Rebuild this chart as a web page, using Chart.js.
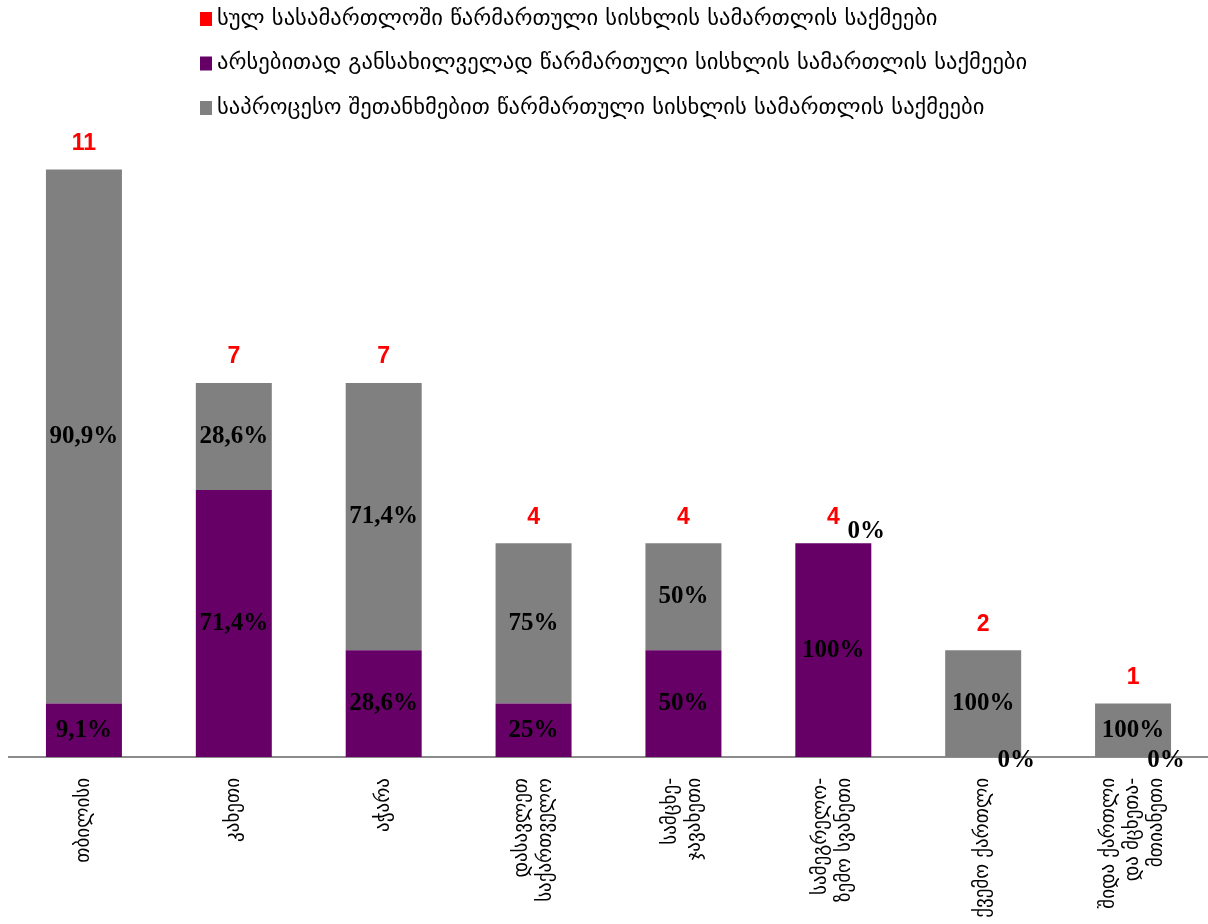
<!DOCTYPE html>
<html>
<head>
<meta charset="utf-8">
<script src="https://cdn.jsdelivr.net/npm/chart.js@4"></script>
<style>
  body { margin: 0; background: #fff; }
</style>
</head>
<body>
<canvas id="myChart" width="1208" height="924"></canvas>
<script>
// regions (one entry per line of the axis label)
const regions = [
  ['თბილისი'],
  ['კახეთი'],
  ['აჭარა'],
  ['დასავლეთ', 'საქართველო'],
  ['სამცხე-', 'ჯავახეთი'],
  ['სამეგრელო-', 'ზემო სვანეთი'],
  ['ქვემო ქართლი'],
  ['შიდა ქართლი', 'და მცხეთა-', 'მთიანეთი']
]
// cases sent to trial on the merits
const meritCases = [1, 5, 2, 1, 2, 4, 0, 0]
// cases closed with plea agreement
const pleaCases = [10, 2, 5, 3, 2, 0, 2, 1]

const legendNames = [
  'სულ სასამართლოში წარმართული სისხლის სამართლის საქმეები',
  'არსებითად განსახილველად წარმართული სისხლის სამართლის საქმეები',
  'საპროცესო შეთანხმებით წარმართული სისხლის სამართლის საქმეები'
]
const legendColors = ['#FF0000', '#660066', '#808080']

const totals = meritCases.map((v, i) => v + pleaCases[i])

function pct(v, total) {
  let p = (v / total * 100).toFixed(1)
  if (p.endsWith('.0')) p = p.slice(0, -2)
  return p.replace('.', ',') + '%'
}

// percentages inside the bars, totals on top, legend and category labels
const extras = {
  id: 'extras',
  afterDraw(chart) {
    const ctx = chart.ctx
    const xs = chart.scales.x
    const ys = chart.scales.y
    ctx.save()

    // percent labels
    ctx.textAlign = 'center'
    ctx.textBaseline = 'middle'
    ctx.font = 'bold 25px "Liberation Serif"'
    ctx.fillStyle = '#000'
    chart.data.datasets.forEach((ds, i) => {
      chart.getDatasetMeta(i).data.forEach((bar, j) => {
        let x = bar.x
        let y = (bar.y + bar.base) / 2
        if (ds.data[j] == 0) {
          x += 33
          y = bar.y + (i == 0 ? 4 : -12)
        }
        ctx.fillText(pct(ds.data[j], totals[j]), x, y)
      })
    })

    // totals
    ctx.font = 'bold 23px "Liberation Sans"'
    ctx.fillStyle = '#FF0000'
    totals.forEach((t, j) => {
      ctx.fillText(t, xs.getPixelForValue(j), ys.getPixelForValue(t) - 26)
    })

    // legend
    ctx.textAlign = 'left'
    ctx.font = '22.6px "DejaVu Sans"'
    legendNames.forEach((name, k) => {
      const y = 19 + k * 44.5
      ctx.fillStyle = legendColors[k]
      ctx.fillRect(200, y - 7, 12, 14)
      ctx.fillStyle = '#000'
      ctx.fillText(name, 217, y)
    })

    // category labels, rotated
    ctx.font = '19px "DejaVu Sans"'
    ctx.textAlign = 'right'
    regions.forEach((lines, j) => {
      ctx.save()
      ctx.translate(xs.getPixelForValue(j), 778)
      ctx.rotate(-Math.PI / 2)
      lines.forEach((line, k) => {
        ctx.fillText(line, 0, (k - (lines.length - 1) / 2) * 24)
      })
      ctx.restore()
    })

    ctx.restore()
  }
}

const ctx = document.getElementById('myChart')

new Chart(ctx, {
  type: 'bar',
  data: {
    labels: regions,
    datasets: [
      {
        label: legendNames[1],
        data: meritCases,
        backgroundColor: legendColors[1]
      },
      {
        label: legendNames[2],
        data: pleaCases,
        backgroundColor: legendColors[2]
      }
    ]
  },
  options: {
    responsive: false,
    animation: false,
    categoryPercentage: 1,
    barPercentage: 0.507,
    layout: { padding: { top: 116, left: 9, right: 0, bottom: 0 } },
    plugins: {
      legend: { display: false },
      tooltip: { enabled: false }
    },
    scales: {
      x: {
        stacked: true,
        grid: { display: false },
        border: { color: '#8C8C8C', width: 2 },
        ticks: { display: false },
        afterFit: (scale) => { scale.height = 167 }
      },
      y: {
        stacked: true,
        display: false,
        min: 0,
        max: 12
      }
    }
  },
  plugins: [extras]
})
</script>
</body>
</html>
